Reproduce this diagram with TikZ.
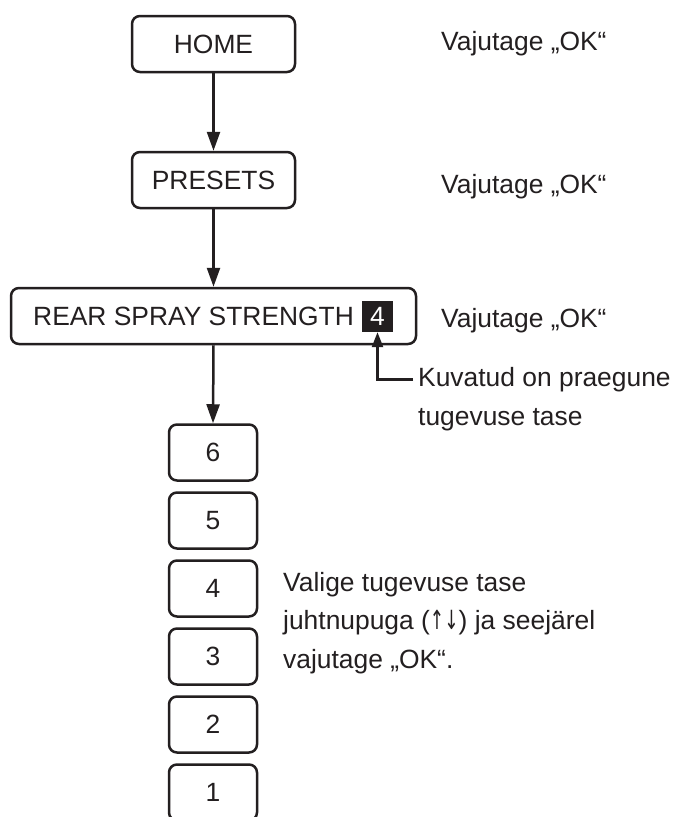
\documentclass[tikz,border=0pt]{standalone}
\usepackage{fontspec}
\setmainfont{Liberation Sans}
\newfontfamily\arrowfont{DejaVu Sans}
\usetikzlibrary{arrows.meta}
\definecolor{ink}{RGB}{35,31,32}
\begin{document}
\begin{tikzpicture}[x=1pt,y=-1pt,
  every node/.style={font=\fontsize{26.4}{38.5}\selectfont, text=ink, inner sep=0pt},
  box/.style={draw=ink, line width=2.5pt, rounded corners=8pt, minimum height=56pt},
  numbox/.style={box, minimum width=88pt},
  conn/.style={draw=ink, line width=2.5pt, -{Triangle[length=19pt,width=13pt]}},
  pointer/.style={draw=ink, line width=2.5pt, -{Triangle[length=15pt,width=11pt]}},
  note/.style={anchor=base west, align=left}]
\useasboundingbox (0,0) rectangle (676,817);
\clip (0,0) rectangle (676,817);
\fill[white] (0,0) rectangle (676,817);
% boxes
\node[box, minimum width=163pt] (home) at (213.5,44) {HOME};
\node[box, minimum width=163pt] (presets) at (213.5,180) {PRESETS};
\node[box, minimum width=405pt] (rear) at (213.5,316) {};
\node[anchor=base west] (reartxt) at (33,325.5) {REAR SPRAY STRENGTH};
\node[fill=ink, text=white, minimum width=31pt, minimum height=31pt] (b4) at (377.5,316.5) {4};
\node[numbox] (n6) at (213,452.5) {6};
\node[numbox] (n5) at (213,520.5) {5};
\node[numbox] (n4) at (213,588.5) {4};
\node[numbox] (n3) at (213,656.5) {3};
\node[numbox] (n2) at (213,724.5) {2};
\node[numbox] (n1) at (213,792.5) {1};
% connectors
\draw[conn] (home.south) -- (presets.north);
\draw[conn] (presets.south) -- (rear.north);
\draw[conn] (rear.south) -- (n6.north);
\coordinate (kc) at (413,379.5);
\draw[pointer] (kc) -| (b4.south);
% notes
\node[note] (ok1) at (441,50) {Vajutage „OK“};
\node[note] (ok2) at (441,193) {Vajutage „OK“};
\node[note] (ok3) at (441,327) {Vajutage „OK“};
\node[note] (kuv) at (418,425) {Kuvatud on praegune\\tugevuse tase};
\node[note] (valige) at (283,668) {Valige tugevuse tase\\juhtnupuga ({\arrowfont\scalebox{0.65}[1]{↑↓}}) ja seejärel\\vajutage „OK“.};
\end{tikzpicture}
\end{document}
